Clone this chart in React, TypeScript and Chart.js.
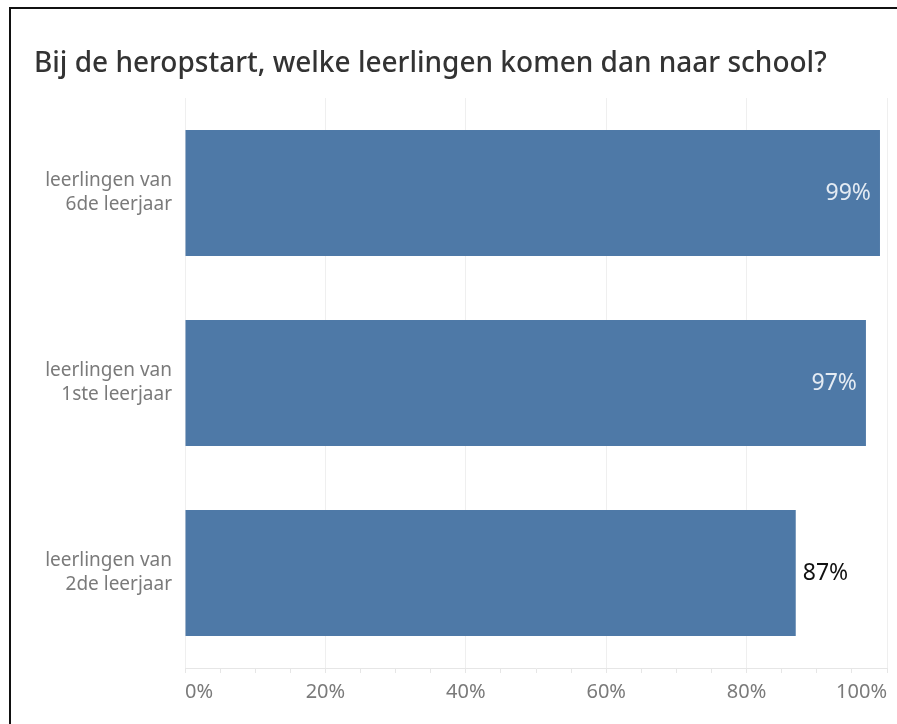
import React, { useEffect, useRef } from "react";
import { Chart, registerables } from "chart.js";

Chart.register(...registerables);

const TITLE = "Bij de heropstart, welke leerlingen komen dan naar school?";
const categories: string[][] = [
  ["leerlingen van", "6de leerjaar"],
  ["leerlingen van", "1ste leerjaar"],
  ["leerlingen van", "2de leerjaar"],
];
const values: number[] = [99, 97, 87];
const xTickValues: number[] = [0, 20, 40, 60, 80, 100];

const FONT = "'Noto Sans', sans-serif";
const BAR_COLOR = "#4e79a7";

const framePlugin = {
  id: "frame",
  beforeDraw(chart: any) {
    const ctx = chart.ctx;
    ctx.save();
    ctx.fillStyle = "#ffffff";
    ctx.fillRect(0, 0, chart.width, chart.height);
    ctx.fillStyle = "#111111";
    ctx.fillRect(9, 7, chart.width - 9, 2);
    ctx.fillRect(9, 7, 2, chart.height - 7);
    ctx.fillStyle = "#333333";
    ctx.font = `500 28px ${FONT}`;
    ctx.textBaseline = "alphabetic";
    ctx.textAlign = "left";
    ctx.fillText(TITLE, 34, 72);
    ctx.restore();
  },
};

const labelPlugin = {
  id: "barLabels",
  afterDatasetsDraw(chart: any) {
    const ctx = chart.ctx;
    const meta = chart.getDatasetMeta(0);
    ctx.save();
    ctx.font = `23px ${FONT}`;
    ctx.textBaseline = "middle";
    meta.data.forEach((bar: any, i: number) => {
      const v = values[i];
      const text = `${v}%`;
      if (v >= 90) {
        ctx.fillStyle = "#e4ebf3";
        ctx.textAlign = "right";
        ctx.fillText(text, bar.x - 9, bar.y);
      } else {
        ctx.fillStyle = "#111111";
        ctx.textAlign = "left";
        ctx.fillText(text, bar.x + 7, bar.y);
      }
    });
    ctx.restore();
  },
};

export default function App() {
  const ref = useRef<HTMLCanvasElement>(null);
  useEffect(() => {
    if (!ref.current) return;
    const chart = new Chart(ref.current, {
      type: "bar",
      data: {
        labels: categories,
        datasets: [
          {
            data: values,
            backgroundColor: BAR_COLOR,
            borderWidth: 0,
            barPercentage: 1,
            categoryPercentage: 0.663,
          },
        ],
      },
      options: {
        indexAxis: "y",
        animation: false,
        responsive: false,
        maintainAspectRatio: false,
        layout: { padding: { left: 0, top: 98, right: 10, bottom: 0 } },
        plugins: {
          legend: { display: false },
          tooltip: { enabled: false },
          title: { display: false },
        },
        scales: {
          x: {
            min: 0,
            max: 100,
            border: { display: true, color: "#e6e6e6", width: 1 },
            grid: {
              color: (c: any) =>
                c.tick && c.tick.value % 20 === 0 ? "#efefef" : "rgba(0,0,0,0)",
              tickColor: "#e6e6e6",
              tickLength: 5,
              drawTicks: true,
            },
            afterBuildTicks: (axis: any) => {
              const t = [];
              for (let v = 0; v <= 100; v += 5) t.push({ value: v });
              axis.ticks = t;
            },
            ticks: {
              autoSkip: false,
              maxRotation: 0,
              align: "inner",
              color: "#7a7a7a",
              font: { family: FONT, size: 20 },
              padding: 7,
              callback: (v: any) => (xTickValues.includes(Number(v)) ? `${v}%` : ""),
            },
            afterFit: (axis: any) => {
              axis.height = 56;
            },
          },
          y: {
            border: { display: false },
            grid: { display: false },
            ticks: {
              color: "#7a7a7a",
              font: { family: FONT, size: 19, lineHeight: 1.26 },
              padding: 5,
            },
            afterFit: (axis: any) => {
              axis.width = 185;
            },
          },
        },
      },
      plugins: [framePlugin, labelPlugin],
    });
    return () => chart.destroy();
  }, []);
  return (
    <div style={{ position: "fixed", left: 0, top: 0, width: 897, height: 724, background: "#fff" }}>
      <canvas ref={ref} width={897} height={724} style={{ display: "block", width: 897, height: 724 }} />
    </div>
  );
}
